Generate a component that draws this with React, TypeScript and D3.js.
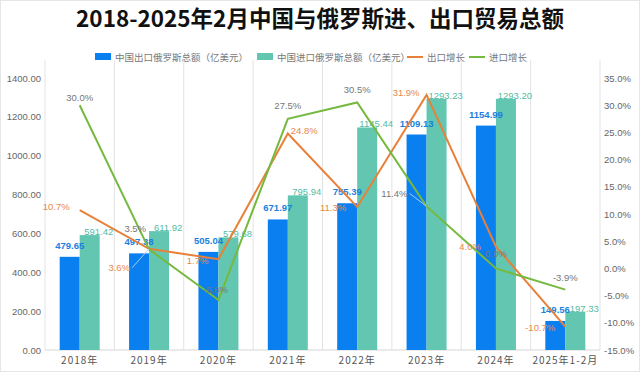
import React from "react";
import * as d3 from "d3";

const categories = ["2018年", "2019年", "2020年", "2021年", "2022年", "2023年", "2024年", "2025年1-2月"];
const exportValues = [479.65, 497.38, 505.04, 671.97, 755.39, 1109.13, 1154.99, 149.56];
const importValues = [591.42, 611.92, 579.68, 795.94, 1145.44, 1293.23, 1293.2, 197.33];
const exportGrowth = [10.7, 3.6, 1.7, 24.8, 11.3, 31.9, 4.0, -10.7];
const importGrowth = [30.0, 3.5, -5.8, 27.5, 30.5, 11.4, 0.0, -3.9];
const leftTicks = [0, 200, 400, 600, 800, 1000, 1200, 1400];
const rightTicks = [-15, -10, -5, 0, 5, 10, 15, 20, 25, 30, 35];

// label placement (style only)
const expLabelPos: [number, number, string, boolean][] = [
  [-10, -4, "end", false], [-19, 19, "end", true], [-10, 1, "end", false], [3, -3, "start", false],
  [-11, 1, "end", false], [-7, -2, "end", false], [-15, 0, "end", false], [-10, 1, "end", false],
];
const impLabelPos: [number, number, string, boolean][] = [
  [0, -8, "middle", false], [-3, -21, "end", false], [-3, -10, "middle", false], [0, -13, "middle", false],
  [0, -13, "middle", false], [-19, -13, "end", true], [0, -15, "middle", false], [0, -12, "middle", false],
];

const W = 640, H = 372;
const L = 45, R = 600, T = 78, B = 350;
const FONT = "'Noto Sans CJK SC', 'Noto Sans', sans-serif";
const NUMFONT = "'Liberation Sans', Arial, sans-serif";
const BLUE = "#0a7ff0";
const TEAL = "#62c6b1";
const ORANGE = "#e8803a";
const GREEN = "#76b93f";

export default function App() {
  const x = d3.scaleBand<string>().domain(categories).range([L, R]).padding(0);
  const yL = d3.scaleLinear().domain([0, 1400]).range([B, T]);
  const yR = d3.scaleLinear().domain([-15, 35]).range([B, T]);
  const cx = (c: string) => (x(c) as number) + x.bandwidth() / 2;
  const bw = 20;
  const line = d3.line<[number, number]>().x((d) => d[0]).y((d) => d[1]);
  const expPts: [number, number][] = categories.map((c, i) => [cx(c), yR(exportGrowth[i])]);
  const impPts: [number, number][] = categories.map((c, i) => [cx(c), yR(importGrowth[i])]);
  const fmtL = (v: number) => v.toFixed(2);
  const fmtP = (v: number) => v.toFixed(1) + "%";

  const legend = [
    { type: "rect", color: BLUE, label: "中国出口俄罗斯总额（亿美元）", x: 95 },
    { type: "rect", color: TEAL, label: "中国进口俄罗斯总额（亿美元）", x: 257 },
    { type: "line", color: ORANGE, label: "出口增长", x: 407 },
    { type: "line", color: GREEN, label: "进口增长", x: 469 },
  ];

  return (
    <svg width={W} height={H} style={{ position: "absolute", left: 0, top: 0, background: "#fff" }} fontFamily={FONT}>
      <rect x={0.5} y={0.5} width={W - 1} height={H - 1} fill="#fff" stroke="#e6e6e6" />
      <text x={320} y={27} textAnchor="middle" fontSize={22.5} fontWeight="bold" fill="#111">
        2018-2025年2月中国与俄罗斯进、出口贸易总额
      </text>
      {legend.map((l, i) => (
        <g key={i}>
          {l.type === "rect" ? (
            <rect x={l.x} y={53} width={16} height={7} fill={l.color} />
          ) : (
            <line x1={l.x} x2={l.x + 16} y1={57} y2={57} stroke={l.color} strokeWidth={2} />
          )}
          <text x={l.x + 20} y={60.5} fontSize={9.5} fill="#777">{l.label}</text>
        </g>
      ))}
      {categories.map((c, i) => (
        <line key={i} x1={x(c) as number} x2={x(c) as number} y1={T - 18} y2={B} stroke="#e3e3e3" />
      ))}
      <line x1={R} x2={R} y1={T - 18} y2={B} stroke="#e3e3e3" />
      <line x1={L} x2={R} y1={B} y2={B} stroke="#d6d6d6" />
      {leftTicks.map((t) => (
        <text key={t} x={41} y={yL(t) + 3.5} textAnchor="end" fontSize={9.5} fill="#666" fontFamily={NUMFONT}>
          {fmtL(t)}
        </text>
      ))}
      {rightTicks.map((t) => (
        <text key={t} x={604} y={yR(t) + 3.5} textAnchor="start" fontSize={9.5} fill="#666" fontFamily={NUMFONT}>
          {fmtP(t)}
        </text>
      ))}
      {categories.map((c) => (
        <text key={c} x={cx(c)} y={364} textAnchor="middle" fontSize={10} fill="#555" letterSpacing={1}>
          {c}
        </text>
      ))}
      {categories.map((c, i) => (
        <g key={c}>
          <rect x={cx(c) - bw} y={yL(exportValues[i])} width={bw} height={B - yL(exportValues[i])} fill={BLUE} />
          <rect x={cx(c)} y={yL(importValues[i])} width={bw} height={B - yL(importValues[i])} fill={TEAL} />
        </g>
      ))}
      {categories.map((c, i) => (
        <g key={c} fontFamily={NUMFONT}>
          <text x={cx(c) - bw / 2} y={yL(exportValues[i]) - 8} textAnchor="middle" fontSize={9.5} fontWeight="bold" fill="#1a7fe0">
            {fmtL(exportValues[i])}
          </text>
          <text x={cx(c) + bw / 2 + 9} y={yL(importValues[i])} textAnchor="middle" fontSize={9.5} fill="#52bba5">
            {fmtL(importValues[i])}
          </text>
        </g>
      ))}
      <path d={line(expPts) || ""} fill="none" stroke={ORANGE} strokeWidth={2} />
      <path d={line(impPts) || ""} fill="none" stroke={GREEN} strokeWidth={2} />
      {expPts.map((p, i) => {
        const [dx, dy, anchor, conn] = expLabelPos[i];
        return (
          <g key={"e" + i}>
            {conn && <line x1={p[0] + dx + 2} y1={p[1] + dy} x2={p[0]} y2={p[1]} stroke="#a9cdf2" strokeWidth={1} />}
            <text x={p[0] + dx} y={p[1] + dy + 3.5} textAnchor={anchor as any} fontSize={9.5} fill="#e8884a" fontFamily={NUMFONT}>
              {fmtP(exportGrowth[i])}
            </text>
          </g>
        );
      })}
      {impPts.map((p, i) => {
        const [dx, dy, anchor, conn] = impLabelPos[i];
        return (
          <g key={"i" + i}>
            {conn && <line x1={p[0] + dx + 2} y1={p[1] + dy} x2={p[0]} y2={p[1]} stroke="#a9cdf2" strokeWidth={1} />}
            <text x={p[0] + dx} y={p[1] + dy + 3.5} textAnchor={anchor as any} fontSize={9.5} fill="#777" fontFamily={NUMFONT}>
              {fmtP(importGrowth[i])}
            </text>
          </g>
        );
      })}
    </svg>
  );
}
